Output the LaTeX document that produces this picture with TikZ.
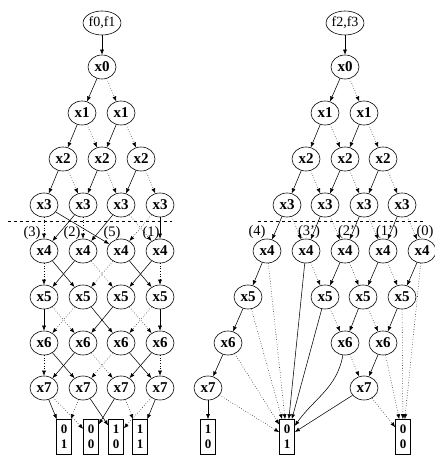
\documentclass[tikz,border=0pt]{standalone}
\usepackage{fontspec}
\setmainfont{Liberation Serif}
\usetikzlibrary{arrows.meta,shapes.geometric}
\tikzset{
 bn/.style={draw, ellipse, minimum width=28pt, minimum height=24pt, inner sep=0pt, line width=0.6pt, font=\fontsize{15}{15}\selectfont\bfseries},
 fn/.style={draw, ellipse, minimum width=37pt, minimum height=24pt, inner sep=0pt, line width=0.6pt, font=\fontsize{14}{14}\selectfont},
 term/.style={draw, rectangle, minimum width=15pt, minimum height=35pt, inner sep=0pt, line width=0.6pt, align=center, font=\fontsize{13}{15}\selectfont\bfseries},
 lab/.style={font=\fontsize{14.5}{15}\selectfont, inner sep=0pt},
 e/.style={-{Latex[length=5pt,width=4pt]}, line width=0.55pt},
 hi/.style={e},
 lo/.style={e, dotted},
 cut/.style={dashed, line width=0.6pt},
}
\begin{document}
\begin{tikzpicture}[x=1pt,y=-1pt]
\useasboundingbox (0,0) rectangle (435,457);
% ---------- left ----------
\node[fn] (F1) at (102,23) {f0,f1};
\node[bn] (L0) at (102,67) {x0};
\node[bn] (L1a) at (82,113) {x1};
\node[bn] (L1b) at (121,113) {x1};
\node[bn] (L2a) at (63,159) {x2};
\node[bn] (L2b) at (102,159) {x2};
\node[bn] (L2c) at (141,159) {x2};
\foreach \n/\x in {a/44,b/83,c/121,d/160}{
 \node[bn] (L3\n) at (\x,205) {x3};
 \node[bn] (L4\n) at (\x,251) {x4};
 \node[bn] (L5\n) at (\x,297) {x5};
 \node[bn] (L6\n) at (\x,343) {x6};
 \node[bn] (L7\n) at (\x,388) {x7};
}
\node[term] (LT01) at (64,437) {0\\1};
\node[term] (LT00) at (91,437) {0\\0};
\node[term] (LT10) at (116,437) {1\\0};
\node[term] (LT11) at (140,437) {1\\1};
\coordinate (LcutA) at (8,221);
\coordinate (LcutB) at (172,221);
\draw[cut] (LcutA) -- (LcutB);
\node[lab] (Ll1) at (32,233) {(3)};
\node[lab] (Ll2) at (72,233) {(2)};
\node[lab] (Ll3) at (112,233) {(5)};
\node[lab] (Ll4) at (151,233) {(1)};

\draw[hi] (F1) -- (L0);
\draw[hi] (L0) -- (L1a); \draw[lo] (L0) -- (L1b);
\draw[hi] (L1a) -- (L2a); \draw[lo] (L1a) -- (L2b);
\draw[hi] (L1b) -- (L2b); \draw[lo] (L1b) -- (L2c);
\draw[hi] (L2a) -- (L3a); \draw[lo] (L2a) -- (L3b);
\draw[hi] (L2b) -- (L3b); \draw[lo] (L2b) -- (L3c);
\draw[hi] (L2c) -- (L3c); \draw[lo] (L2c) -- (L3d);
% x3 -> x4
\draw[lo] (L3a) -- (L4a); \draw[hi] (L3a) -- (L4c);
\draw[hi] (L3b) -- (L4a); \draw[lo] (L3b) -- (L4b);
\draw[hi] (L3c) -- (L4b); \draw[lo] (L3c) -- (L4d);
\draw[lo] (L3d) -- (L4c); \draw[hi] (L3d) -- (L4d);
% x4 -> x5
\draw[lo] (L4a) -- (L5a); \draw[hi] (L4a) -- (L5b);
\draw[hi] (L4b) -- (L5a); \draw[lo] (L4b) -- (L5c);
\draw[lo] (L4c) -- (L5b); \draw[hi] (L4c) -- (L5d);
\draw[hi] (L4d) -- (L5c); \draw[lo] (L4d) -- (L5d);
% x5 -> x6
\draw[hi] (L5a) -- (L6a); \draw[lo] (L5a) -- (L6b);
\draw[lo] (L5b) -- (L6a); \draw[hi] (L5b) -- (L6c);
\draw[hi] (L5c) -- (L6b); \draw[lo] (L5c) -- (L6d);
\draw[lo] (L5d) -- (L6c); \draw[hi] (L5d) -- (L6d);
% x6 -> x7
\draw[lo] (L6a) -- (L7a); \draw[hi] (L6a) -- (L7b);
\draw[hi] (L6b) -- (L7a); \draw[lo] (L6b) -- (L7c);
\draw[lo] (L6c) -- (L7b); \draw[hi] (L6c) -- (L7d);
\draw[hi] (L6d) -- (L7c); \draw[lo] (L6d) -- (L7d);
% x7 -> terminals
\draw[hi] (L7a) -- (LT01); \draw[lo] (L7a) -- (LT00);
\draw[lo] (L7b) -- (LT01); \draw[hi] (L7b) -- (LT10);
\draw[hi] (L7c) -- (LT00); \draw[lo] (L7c) -- (LT11);
\draw[lo] (L7d) -- (LT10); \draw[hi] (L7d) -- (LT11);

% ---------- right ----------
\node[fn] (F2) at (345,23) {f2,f3};
\node[bn] (R0) at (345,67) {x0};
\node[bn] (R1a) at (325,113) {x1};
\node[bn] (R1b) at (364,113) {x1};
\node[bn] (R2a) at (306,159) {x2};
\node[bn] (R2b) at (345,159) {x2};
\node[bn] (R2c) at (383,159) {x2};
\node[bn] (R3a) at (287,205) {x3};
\node[bn] (R3b) at (325,205) {x3};
\node[bn] (R3c) at (364,205) {x3};
\node[bn] (R3d) at (402,205) {x3};
\node[bn] (R4a) at (267,251) {x4};
\node[bn] (R4b) at (306,251) {x4};
\node[bn] (R4c) at (345,251) {x4};
\node[bn] (R4d) at (383,251) {x4};
\node[bn] (R4e) at (422,251) {x4};
\node[bn] (R5a) at (248,297) {x5};
\node[bn] (R5b) at (325,297) {x5};
\node[bn] (R5c) at (363,297) {x5};
\node[bn] (R5d) at (402,297) {x5};
\node[bn] (R6a) at (228,343) {x6};
\node[bn] (R6b) at (345,343) {x6};
\node[bn] (R6c) at (383,343) {x6};
\node[bn] (R7a) at (208,388) {x7};
\node[bn] (R7b) at (364,388) {x7};
\node[term] (RT10) at (208,437) {1\\0};
\node[term] (RT01) at (287,437) {0\\1};
\node[term] (RT00) at (403,437) {0\\0};
\coordinate (RcutA) at (258,221);
\coordinate (RcutB) at (424,221);
\draw[cut] (RcutA) -- (RcutB);
\node[lab] (Rl1) at (257,232) {(4)};
\node[lab] (Rl2) at (309,232) {(3')};
\node[lab] (Rl3) at (349,232) {(2')};
\node[lab] (Rl4) at (387,232) {(1')};
\node[lab] (Rl5) at (425,232) {(0)};

\draw[hi] (F2) -- (R0);
\draw[hi] (R0) -- (R1a); \draw[lo] (R0) -- (R1b);
\draw[hi] (R1a) -- (R2a); \draw[lo] (R1a) -- (R2b);
\draw[hi] (R1b) -- (R2b); \draw[lo] (R1b) -- (R2c);
\draw[hi] (R2a) -- (R3a); \draw[lo] (R2a) -- (R3b);
\draw[hi] (R2b) -- (R3b); \draw[lo] (R2b) -- (R3c);
\draw[hi] (R2c) -- (R3c); \draw[lo] (R2c) -- (R3d);
% x3 -> x4
\draw[hi] (R3a) -- (R4a); \draw[lo] (R3a) -- (R4b);
\draw[hi] (R3b) -- (R4b); \draw[lo] (R3b) -- (R4c);
\draw[hi] (R3c) -- (R4c); \draw[lo] (R3c) -- (R4d);
\draw[hi] (R3d) -- (R4d); \draw[lo] (R3d) -- (R4e);
% x4 -> x5 / terminals
\draw[hi] (R4a) -- (R5a); \draw[lo] (R4a) -- (RT01);
\draw[hi] (R4b) -- (RT01); \draw[lo] (R4b) -- (R5b);
\draw[hi] (R4c) -- (R5b); \draw[lo] (R4c) -- (R5c);
\draw[hi] (R4d) -- (R5c); \draw[lo] (R4d) -- (R5d);
\draw[hi] (R4e) -- (R5d); \draw[lo] (R4e) -- (RT00);
% x5 -> x6 / terminals
\draw[hi] (R5a) -- (R6a); \draw[lo] (R5a) -- (RT01);
\draw[hi] (R5b) -- (RT01); \draw[lo] (R5b) -- (R6b);
\draw[hi] (R5c) -- (R6b); \draw[lo] (R5c) -- (R6c);
\draw[hi] (R5d) -- (R6c); \draw[lo] (R5d) -- (RT00);
% x6 -> x7 / terminals
\draw[hi] (R6a) -- (R7a); \draw[lo] (R6a) -- (RT01);
\draw[hi] (R6b) to[out=-100,in=55] (RT01); \draw[lo] (R6b) -- (R7b);
\draw[hi] (R6c) -- (R7b); \draw[lo] (R6c) -- (RT00);
% x7 -> terminals
\draw[hi] (R7a) -- (RT10); \draw[lo] (R7a) -- (RT01);
\draw[hi] (R7b) -- (RT01); \draw[lo] (R7b) -- (RT00);
\end{tikzpicture}
\end{document}
